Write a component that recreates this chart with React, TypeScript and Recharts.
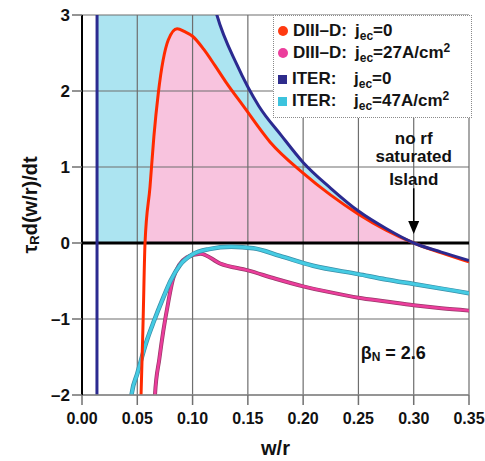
import React from 'react';
import {
  ComposedChart,
  Line,
  Area,
  XAxis,
  YAxis,
  ReferenceLine,
  ReferenceDot,
  Legend,
  Label,
} from 'recharts';

const FONT = "'Liberation Sans', Arial, Helvetica, sans-serif";

type Pt = { w: number; v: number };

const xTicks = [0, 0.05, 0.1, 0.15, 0.2, 0.25, 0.3, 0.35];
const yTicks = [-2, -1, 0, 1, 2, 3];

// DIII-D, j_ec = 0
const diiidNoEc: Pt[] = [
  { w: 0.0525, v: -2.3 }, { w: 0.0534, v: -2 }, { w: 0.0553, v: -1 }, { w: 0.057, v: 0 },
  { w: 0.0615, v: 0.74 }, { w: 0.065, v: 1.4 }, { w: 0.069, v: 1.97 }, { w: 0.078, v: 2.67 },
  { w: 0.086, v: 2.82 }, { w: 0.093, v: 2.78 }, { w: 0.1, v: 2.72 }, { w: 0.11, v: 2.55 },
  { w: 0.12, v: 2.34 }, { w: 0.13, v: 2.12 }, { w: 0.146, v: 1.8 }, { w: 0.17, v: 1.33 },
  { w: 0.2, v: 0.92 }, { w: 0.225, v: 0.63 }, { w: 0.25, v: 0.38 }, { w: 0.275, v: 0.17 },
  { w: 0.3, v: 0 }, { w: 0.325, v: -0.13 }, { w: 0.35, v: -0.25 },
];

// DIII-D, j_ec = 27 A/cm2
const diiidEc27: Pt[] = [
  { w: 0.0655, v: -2.3 }, { w: 0.066, v: -2 }, { w: 0.07, v: -1.52 }, { w: 0.0735, v: -1.16 },
  { w: 0.078, v: -0.78 }, { w: 0.0826, v: -0.46 }, { w: 0.0946, v: -0.19 }, { w: 0.107, v: -0.14 },
  { w: 0.125, v: -0.27 }, { w: 0.15, v: -0.36 }, { w: 0.175, v: -0.47 }, { w: 0.2, v: -0.57 },
  { w: 0.225, v: -0.65 }, { w: 0.25, v: -0.72 }, { w: 0.275, v: -0.77 }, { w: 0.3, v: -0.82 },
  { w: 0.325, v: -0.86 }, { w: 0.35, v: -0.89 },
];

// ITER, j_ec = 0
const iterNoEc: Pt[] = [
  { w: 0.0135, v: -2.3 }, { w: 0.0136, v: 0 }, { w: 0.0138, v: 30 }, { w: 0.06, v: 12 },
  { w: 0.1, v: 4.5 }, { w: 0.122, v: 3 }, { w: 0.14, v: 2.35 }, { w: 0.16, v: 1.8 },
  { w: 0.18, v: 1.42 }, { w: 0.2, v: 1.06 }, { w: 0.225, v: 0.72 }, { w: 0.25, v: 0.42 },
  { w: 0.275, v: 0.19 }, { w: 0.3, v: 0 }, { w: 0.325, v: -0.12 }, { w: 0.35, v: -0.23 },
];

// ITER, j_ec = 47 A/cm2
const iterEc47: Pt[] = [
  { w: 0.0435, v: -2.3 }, { w: 0.045, v: -1.98 }, { w: 0.05, v: -1.72 }, { w: 0.0585, v: -1.29 },
  { w: 0.065, v: -1.03 }, { w: 0.0735, v: -0.72 }, { w: 0.08, v: -0.5 }, { w: 0.0886, v: -0.29 },
  { w: 0.1, v: -0.15 }, { w: 0.115, v: -0.08 }, { w: 0.135, v: -0.05 }, { w: 0.155, v: -0.07 },
  { w: 0.179, v: -0.17 }, { w: 0.209, v: -0.3 }, { w: 0.25, v: -0.41 }, { w: 0.275, v: -0.48 },
  { w: 0.3, v: -0.54 }, { w: 0.325, v: -0.6 }, { w: 0.35, v: -0.66 },
];

const positive = (d: Pt[]) => d.map((p) => ({ w: p.w, v: Math.max(0, p.v) }));

const legendItems = [
  { label: 'DIII–D:', value: '=0', sup: '', color: '#FF3A10', shape: 'circle' },
  { label: 'DIII–D:', value: '=27A/cm', sup: '2', color: '#EC3D9C', shape: 'circle' },
  { label: 'ITER:', value: '=0', sup: '', color: '#2E2C8C', shape: 'square' },
  { label: 'ITER:', value: '=47A/cm', sup: '2', color: '#3CC3DD', shape: 'square' },
];
const legendRowTops = [4, 26, 52, 74];

const renderLegend = () => (
  <div
    style={{
      position: 'relative',
      width: 199,
      height: 103,
      boxSizing: 'border-box',
      border: '1px dotted #8a8a8a',
      background: '#fff',
      fontFamily: FONT,
      fontWeight: 700,
      fontSize: 17,
      color: '#141414',
    }}
  >
    {legendItems.map((it, i) => (
      <div
        key={i}
        style={{
          position: 'absolute',
          left: 0,
          top: legendRowTops[i],
          height: 22,
          display: 'flex',
          alignItems: 'center',
          whiteSpace: 'nowrap',
        }}
      >
        <span
          style={{
            display: 'inline-block',
            width: it.shape === 'circle' ? 10 : 9,
            height: it.shape === 'circle' ? 10 : 9,
            borderRadius: it.shape === 'circle' ? '50%' : 0,
            background: it.color,
            marginLeft: 4,
            marginRight: 5,
          }}
        />
        <span style={{ display: 'inline-block', width: 62 }}>{it.label}</span>
        <span>
          j<span style={{ fontSize: 12, position: 'relative', top: 4 }}>ec</span>
          {it.value}
          {it.sup ? (
            <span style={{ fontSize: 12, position: 'relative', top: -6 }}>{it.sup}</span>
          ) : null}
        </span>
      </div>
    ))}
  </div>
);

const fmtY = (v: number) => String(v).replace('-', '–');
const fmtX = (v: number) => v.toFixed(2);

const XLabel = (props: any) => {
  const vb = props.viewBox;
  return (
    <text
      x={vb.x + vb.width / 2}
      y={vb.y + 60}
      textAnchor="middle"
      fontFamily={FONT}
      fontWeight={700}
      fontSize={20}
      fill="#111"
    >
      w/r
    </text>
  );
};

const YLabel = (props: any) => {
  const vb = props.viewBox;
  const cx = vb.x + 8;
  const cy = vb.y + vb.height / 2;
  return (
    <text
      x={cx}
      y={cy}
      transform={`rotate(-90 ${cx} ${cy})`}
      textAnchor="middle"
      dominantBaseline="central"
      fontFamily={FONT}
      fontWeight={700}
      fontSize={20}
      fill="#111"
    >
      τ
      <tspan fontSize={13} dy={4}>R</tspan>
      <tspan dy={-4}>d(w/r)/dt</tspan>
    </text>
  );
};

const textShape = (label: string) => (p: any) => (
  <text
    x={p.cx}
    y={p.cy}
    textAnchor="middle"
    dominantBaseline="central"
    fontFamily={FONT}
    fontWeight={700}
    fontSize={17}
    fill="#111"
  >
    {label}
  </text>
);

const betaShape = (p: any) => (
  <text
    x={p.cx}
    y={p.cy}
    textAnchor="start"
    dominantBaseline="central"
    fontFamily={FONT}
    fontWeight={700}
    fontSize={18}
    fill="#111"
  >
    β
    <tspan fontSize={12} dy={4}>N</tspan>
    <tspan dy={-4}> = 2.6</tspan>
  </text>
);

const arrowHead = (p: any) => (
  <polygon
    points={`${p.cx},${p.cy} ${p.cx - 5.5},${p.cy - 13} ${p.cx + 5.5},${p.cy - 13}`}
    fill="#000"
  />
);

export default function App() {
  return (
    <div style={{ position: 'absolute', left: 0, top: 0, width: 485, height: 461, background: '#fff' }}>
      <ComposedChart
        width={485}
        height={461}
        margin={{ top: 15, right: 16, bottom: 16, left: 22 }}
      >
        <XAxis
          type="number"
          dataKey="w"
          domain={[0, 0.35]}
          ticks={xTicks}
          tickFormatter={fmtX}
          allowDataOverflow
          height={50}
          tickSize={10}
          tickMargin={8}
          axisLine={{ stroke: '#8a8a8a', strokeWidth: 1.5 }}
          tickLine={{ stroke: '#707070', strokeWidth: 1.5 }}
          tick={{ fill: '#111', fontSize: 16, fontWeight: 700, fontFamily: FONT }}
          interval={0}
        >
          <Label content={XLabel} />
        </XAxis>
        <YAxis
          type="number"
          dataKey="v"
          domain={[-2, 3]}
          ticks={yTicks}
          tickFormatter={fmtY}
          allowDataOverflow
          width={60}
          tickSize={10}
          tickMargin={2}
          axisLine={{ stroke: '#000', strokeWidth: 2 }}
          tickLine={{ stroke: '#707070', strokeWidth: 1.5 }}
          tick={{ fill: '#111', fontSize: 17, fontWeight: 700, fontFamily: FONT }}
          interval={0}
        >
          <Label content={YLabel} />
        </YAxis>

        <Area
          data={positive(iterNoEc)}
          dataKey="v"
          type="monotone"
          stroke="none"
          fill="#ACE4F1"
          fillOpacity={1}
          isAnimationActive={false}
          dot={false}
          activeDot={false}
        />
        <Area
          data={positive(diiidNoEc)}
          dataKey="v"
          type="monotone"
          stroke="none"
          fill="#F8C3DE"
          fillOpacity={1}
          isAnimationActive={false}
          dot={false}
          activeDot={false}
        />

        {xTicks.map((t) => (
          <ReferenceLine key={'gx' + t} x={t} stroke="#6e6e6e" strokeWidth={1.2} />
        ))}
        {yTicks.map((t) => (
          <ReferenceLine key={'gy' + t} y={t} stroke="#6e6e6e" strokeWidth={1.2} />
        ))}
        <ReferenceLine y={0} stroke="#000" strokeWidth={3} />

        <Line data={diiidEc27} dataKey="v" type="monotone" stroke="#9a3a6a" strokeWidth={4} dot={false} activeDot={false} isAnimationActive={false} />
        <Line data={diiidEc27} dataKey="v" type="monotone" stroke="#EC3D9C" strokeWidth={2.5} dot={false} activeDot={false} isAnimationActive={false} />
        <Line data={iterEc47} dataKey="v" type="monotone" stroke="#3a8fa8" strokeWidth={4.5} dot={false} activeDot={false} isAnimationActive={false} />
        <Line data={iterEc47} dataKey="v" type="monotone" stroke="#45CBE3" strokeWidth={3} dot={false} activeDot={false} isAnimationActive={false} />
        <Line data={diiidNoEc} dataKey="v" type="monotone" stroke="#FF2A00" strokeWidth={3} dot={false} activeDot={false} isAnimationActive={false} />
        <Line data={iterNoEc} dataKey="v" type="monotone" stroke="#2B2A90" strokeWidth={3} dot={false} activeDot={false} isAnimationActive={false} />

        <ReferenceLine
          segment={[{ x: 0.3, y: 0.72 }, { x: 0.3, y: 0.25 }]}
          stroke="#000"
          strokeWidth={1.5}
        />
        <ReferenceDot x={0.3} y={0.12} r={1} shape={arrowHead} />
        <ReferenceDot x={0.3} y={1.38} r={1} shape={textShape('no rf')} />
        <ReferenceDot x={0.3} y={1.14} r={1} shape={textShape('saturated')} />
        <ReferenceDot x={0.3} y={0.83} r={1} shape={textShape('Island')} />
        <ReferenceDot x={0.252} y={-1.45} r={1} shape={betaShape} />

        <Legend
          content={renderLegend}
          layout="vertical"
          align="center"
          verticalAlign="middle"
          wrapperStyle={{ left: 273, top: 15, width: 199, height: 103 }}
        />
      </ComposedChart>
    </div>
  );
}
